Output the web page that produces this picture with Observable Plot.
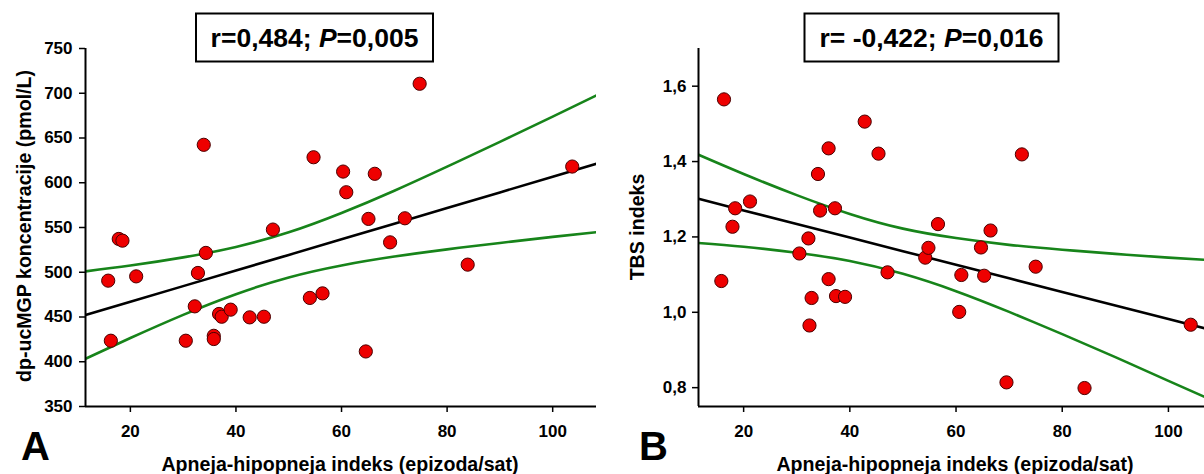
<!DOCTYPE html>
<html><head><meta charset="utf-8">
<script src="https://cdn.jsdelivr.net/npm/d3@7"></script>
<script src="https://cdn.jsdelivr.net/npm/@observablehq/plot@0.6"></script>
<style>
html,body{margin:0;padding:0;background:#fff;overflow:hidden;}
#wrap{position:relative;width:1204px;height:474px;overflow:hidden;background:#fff;font-family:"Liberation Sans",Arial,sans-serif;}
#wrap > svg{position:absolute;top:0;}
</style></head><body><div id="wrap"></div>
<script>
// ---- Panel A data: AHI vs dp-ucMGP ----
const apneaA = [15.8,16.3,17.8,18.5,21.1,30.5,32.2,32.8,33.9,34.3,35.8,35.8,36.8,37.3,39.0,42.6,45.3,47.0,54.0,54.7,56.4,60.3,60.9,64.6,65.1,66.3,69.2,72.0,74.8,83.9,103.7];
const ucmgp  = [490.6,423.5,537.2,535.3,495.4,423.5,461.9,499.2,642.4,521.6,429.0,425.4,453.4,450.3,458.2,449.6,450.3,547.7,471.3,628.5,476.4,612.5,589.4,411.5,559.6,610.0,533.4,560.3,710.6,508.5,618.1];
// regression line and 95% band
const fitXA   = [11.5,20,30,40,50,60,70,80,90,100,108.3];
const fitA    = [452.2,467.0,484.5,501.9,519.4,536.9,554.3,571.8,589.2,606.7,621.2];
const upperA  = [501.0,507.5,516.6,528.3,544.6,566.2,591.1,618.0,645.7,673.9,697.6];
const lowerA  = [403.4,426.5,452.4,475.5,494.2,507.6,517.5,525.6,532.7,539.5,544.8];
const yTicksA = [350,400,450,500,550,600,650,700,750];

// ---- Panel B data: AHI vs TBS ----
const apneaB = [15.8,16.3,17.9,18.4,21.2,30.5,32.2,32.4,32.8,34.0,34.4,36.0,36.0,37.2,37.4,39.1,42.8,45.4,47.1,54.2,54.8,56.6,60.6,61.0,64.7,65.3,66.5,69.5,72.4,75.0,84.2,104.2];
const tbs    = [1.083,1.565,1.227,1.276,1.294,1.156,1.196,0.965,1.038,1.367,1.270,1.435,1.088,1.276,1.043,1.041,1.506,1.421,1.106,1.145,1.171,1.234,1.001,1.099,1.172,1.097,1.217,0.814,1.419,1.121,0.799,0.967];
const fitXB   = [11.5,20,30,40,50,60,70,80,90,100,108.3];
const fitB    = [1.3010,1.2704,1.2343,1.1983,1.1622,1.1261,1.0901,1.0540,1.0180,0.9819,0.9520];
const upperB  = [1.418,1.367,1.311,1.261,1.222,1.197,1.179,1.166,1.155,1.145,1.138];
const lowerB  = [1.184,1.174,1.158,1.136,1.102,1.056,1.001,0.942,0.881,0.818,0.766];
const yTicksB = [0.8,1.0,1.2,1.4,1.6];
const yTickLabelsB = ["0,8","1,0","1,2","1,4","1,6"];

const xTicks = [20,40,60,80,100];
const xDomain = [11.5,108.3];

const RED = "#ee0000", RED_STROKE = "#4a0000", GREEN = "#17841a";
const FONT = "'Liberation Sans', Arial, Helvetica, sans-serif";

function panel({xs, ys, fitX, fit, upper, lower, yDomain, yTicks, yFmt, width, marginLeft, marginRight, tickPadY}) {
  const pts = xs.map((x, i) => ({x, y: ys[i]}));
  const fitRows = fitX.map((x, i) => ({x, fit: fit[i], upper: upper[i], lower: lower[i]}));
  return Plot.plot({
    width, height: 474,
    marginLeft, marginRight, marginTop: 48, marginBottom: 68,
    style: {fontFamily: FONT, fontSize: "17px", fontWeight: "bold", color: "black", background: "transparent", overflow: "visible"},
    x: {domain: xDomain},
    y: {domain: yDomain},
    marks: [
      Plot.line(fitRows, {x: "x", y: "upper", stroke: GREEN, strokeWidth: 2.6, curve: "natural", clip: true}),
      Plot.line(fitRows, {x: "x", y: "lower", stroke: GREEN, strokeWidth: 2.6, curve: "natural", clip: true}),
      Plot.line(fitRows, {x: "x", y: "fit", stroke: "black", strokeWidth: 2.6, clip: true}),
      Plot.ruleX([xDomain[0]], {stroke: "black", strokeWidth: 2}),
      Plot.ruleY([yDomain[0]], {stroke: "black", strokeWidth: 2}),
      Plot.axisY({ticks: yTicks, tickFormat: yFmt, tickSize: 6, tickPadding: tickPadY, label: null, strokeWidth: 1.5, fontSize: 17, fontWeight: "bold"}),
      Plot.axisX({ticks: xTicks, tickSize: 6, tickPadding: 12, label: null, strokeWidth: 1.5, fontSize: 17, fontWeight: "bold"}),
      Plot.dot(pts, {x: "x", y: "y", r: 6.6, fill: RED, stroke: RED_STROKE, strokeWidth: 1})
    ]
  });
}

const wrap = document.getElementById("wrap");

const pA = panel({xs: apneaA, ys: ucmgp, fitX: fitXA, fit: fitA, upper: upperA, lower: lowerA,
  yDomain: [350,750], yTicks: yTicksA, yFmt: d => String(d), width: 602, marginLeft: 85, marginRight: 6, tickPadY: 7});
pA.style.left = "0px";
wrap.appendChild(pA);

const pB = panel({xs: apneaB, ys: tbs, fitX: fitXB, fit: fitB, upper: upperB, lower: lowerB,
  yDomain: [0.75,1.7], yTicks: yTicksB, yFmt: d => yTickLabelsB[yTicksB.indexOf(d)], width: 610, marginLeft: 96, marginRight: 0, tickPadY: 6});
pB.style.left = "602px";
wrap.appendChild(pB);

// ---- annotation overlay (titles, stat boxes, panel letters) ----
const ns = "http://www.w3.org/2000/svg";
const ov = document.createElementNS(ns, "svg");
ov.setAttribute("width", 1204); ov.setAttribute("height", 474);
ov.style.left = "0px"; ov.style.pointerEvents = "none";
ov.innerHTML = `
<g font-family="${FONT}" font-weight="bold" fill="black">
  <text x="340" y="470.5" font-size="19.6" text-anchor="middle">Apneja-hipopneja indeks (epizoda/sat)</text>
  <text x="955" y="470.5" font-size="19.6" text-anchor="middle">Apneja-hipopneja indeks (epizoda/sat)</text>
  <text transform="translate(30.5,226) rotate(-90)" font-size="19.6" text-anchor="middle">dp-ucMGP koncentracije (pmol/L)</text>
  <text transform="translate(643.5,227) rotate(-90)" font-size="19.6" text-anchor="middle">TBS indeks</text>
  <text x="21" y="459.5" font-size="40">A</text>
  <text x="639" y="459.5" font-size="40">B</text>
  <rect x="196" y="13.5" width="237" height="48" fill="white" stroke="black" stroke-width="2"/>
  <text x="314.5" y="46.5" font-size="26.5" text-anchor="middle" style="white-space:pre"><tspan>r=0,484; </tspan><tspan font-style="italic">P</tspan><tspan>=0,005</tspan></text>
  <rect x="804.5" y="13.5" width="254" height="48" fill="white" stroke="black" stroke-width="2"/>
  <text x="931.5" y="46.5" font-size="26.5" text-anchor="middle" style="white-space:pre"><tspan>r= -0,422; </tspan><tspan font-style="italic">P</tspan><tspan>=0,016</tspan></text>
</g>`;
wrap.appendChild(ov);
</script>
</body></html>
